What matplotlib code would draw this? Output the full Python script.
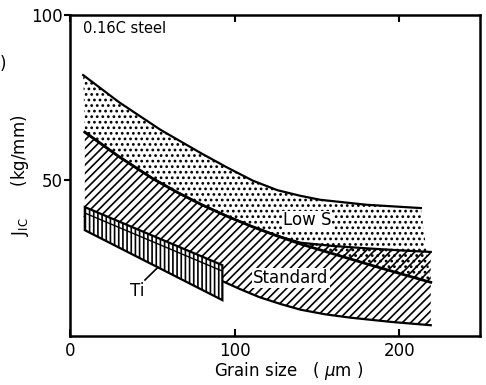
import matplotlib.pyplot as plt

plt.rcParams['hatch.linewidth'] = 1.2
plt.rcParams['font.family'] = 'DejaVu Sans'

# values (grain size um, J_IC kg/mm)
x_lows_up = [8, 30, 55, 80, 95, 111, 126, 140, 152, 180, 213]
lows_upper = [81.8, 73.5, 65.2, 58, 53.9, 49.8, 46.9, 45.2, 44.0, 42.5, 41.5]

x_mid = [9, 30, 50, 65, 80, 95, 110, 125, 140, 160, 180, 200, 219]
lows_lower = [64.5, 57, 50.5, 46.3, 42.5, 39.1, 36, 33.2, 30.6, 27.6, 24.6, 21.7, 19]
std_upper = [64.5, 57, 50.5, 46.3, 42.5, 39.1, 36, 33.2, 31.0, 30.0, 29.3, 28.7, 28.2]

x_std_low = [9, 30, 50, 70, 91, 103, 115, 128, 140, 155, 170, 195, 219]
std_lower = [39, 33.8, 29, 24.3, 19.7, 17, 14.5, 12.4, 10.7, 9.3, 8.3, 7.0, 6]

x_ti = [9, 92.5]
ti_upper = [41.8, 24.2]
ti_lower = [34.8, 13.6]

fig, ax = plt.subplots(figsize=(4.86, 3.85), dpi=100)
fig.subplots_adjust(left=0.144, right=0.988, bottom=0.127, top=0.961)

# Low S band (dots)
ax.fill(x_lows_up + x_mid[::-1], lows_upper + lows_lower[::-1],
        facecolor='none', edgecolor='black', hatch='...', linewidth=0, zorder=1)
# Standard band (diagonal)
ax.fill(x_mid + x_std_low[::-1], std_upper + std_lower[::-1],
        facecolor='none', edgecolor='black', hatch='////', linewidth=0, zorder=1)

ax.plot(x_lows_up, lows_upper, color='black', lw=1.6, zorder=2)
ax.plot(x_mid, lows_lower, color='black', lw=2.0, zorder=2)
ax.plot(x_mid, std_upper, color='black', lw=1.6, zorder=2)
ax.plot(x_std_low, std_lower, color='black', lw=1.6, zorder=2)

# Ti band (vertical)
ax.fill(x_ti + x_ti[::-1], ti_upper + ti_lower[::-1],
        facecolor='white', edgecolor='black', hatch='||||', linewidth=1.6, zorder=3)
ax.plot(x_ti, [v - 1.8 for v in ti_upper], color='black', lw=1.0, zorder=3)

ax.text(144, 37.8, 'Low S', fontsize=12, ha='center', va='center', zorder=4,
        bbox=dict(facecolor='white', edgecolor='none', pad=0.5))
ax.text(134, 20.3, 'Standard', fontsize=12, ha='center', va='center', zorder=4,
        bbox=dict(facecolor='white', edgecolor='none', pad=1))
ax.text(41, 16.5, 'Ti', fontsize=12, ha='center', va='center', zorder=4,
        bbox=dict(facecolor='white', edgecolor='none', pad=0.5))
ax.plot([45.5, 53.5], [19.7, 23.6], color='black', lw=1.2, zorder=4)
ax.text(0.032, 0.958, '0.16C steel', transform=ax.transAxes, fontsize=10.5,
        ha='left', va='center')

ax.set_xlim(0, 249)
ax.set_ylim(2.7, 100)
ax.set_xticks([0, 100, 200])
ax.set_yticks([50, 100])
ax.tick_params(axis='x', direction='in', top=True, length=5, width=1.5,
               labelsize=12, pad=4)
ax.tick_params(axis='y', direction='out', length=4, width=1.5,
               labelsize=12, pad=1)
for s in ax.spines.values():
    s.set_linewidth(1.8)

ax.set_xlabel(r'Grain size   ( $\mu$m )', fontsize=12)
ax.xaxis.set_label_coords(0.534, -0.075)
ax.set_ylabel(r'J$_{\rm IC}$      (kg/mm)', fontsize=12)
ax.yaxis.set_label_coords(-0.095, 0.5)

fig.text(0.0, 0.835, ')', fontsize=12, ha='left', va='center')

plt.savefig('out.png', dpi=100)
